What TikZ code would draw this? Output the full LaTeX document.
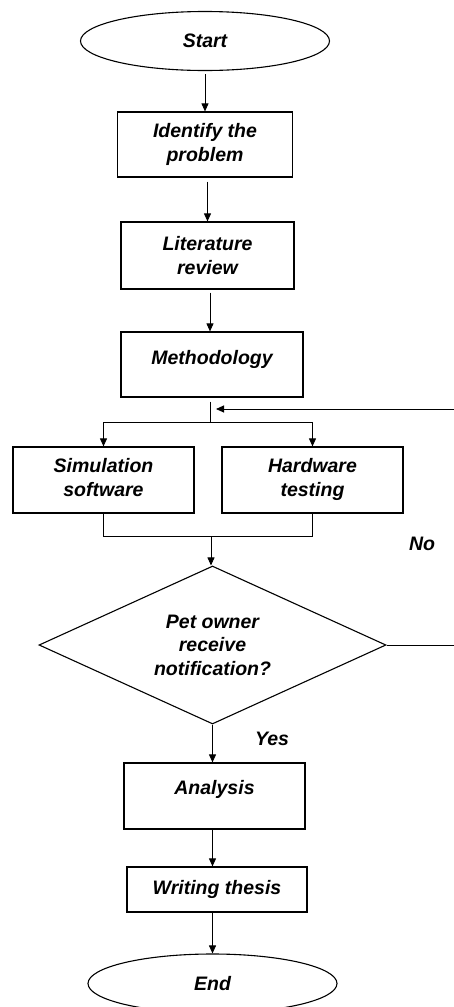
\documentclass[tikz,border=0pt]{standalone}
\usepackage{fontspec}
\setmainfont{Liberation Sans}
\usepackage{tikz}
\usetikzlibrary{arrows.meta,shapes.geometric}

\begin{document}
\begin{tikzpicture}[x=1pt,y=-1pt,
  every node/.style={font=\bfseries\itshape\fontsize{19.5}{23.5}\selectfont,align=center},
  term/.style={draw,ellipse,line width=1.1pt,minimum width=249pt,minimum height=59pt,inner sep=0pt},
  proc/.style={draw,rectangle,line width=1.2pt,minimum width=#1,minimum height=66pt,inner sep=0pt},
  proc/.default=181pt,
  cond/.style={draw,diamond,line width=1.1pt,minimum width=347pt,minimum height=158pt,aspect=2.2,inner sep=0pt},
  arr/.style={-{Triangle[length=8pt,width=7pt]},line width=0.9pt},
  conn/.style={line width=0.9pt}]
  \useasboundingbox (0,0) rectangle (454,1007);
  \node[term] (start) at (205,41) {Start};
  \node[proc=175pt,minimum height=65pt] (ident) at (205,144.5) {Identify the\\problem};
  \node[proc=173pt,minimum height=67pt] (lit) at (207.5,255.5) {Literature\\review};
  \node[proc=182pt,minimum height=65pt,text depth=15pt] (meth) at (212,364.5) {Methodology};
  \node[proc,text depth=5pt] (sim) at (103.5,480) {Simulation\\software};
  \node[proc,text depth=5pt] (hw) at (312.5,480) {Hardware\\testing};
  \node[cond] (dec) at (212.5,645) {Pet owner\\receive\\notification?};
  \node[proc,text depth=18pt] (ana) at (214.5,796) {Analysis};
  \node[proc=180pt,minimum height=45pt] (wr) at (217,889.5) {Writing thesis};
  \node[term] (end) at (212.5,983.5) {End};
  \node (no) at (422,544) {No};
  \node (yes) at (272,739) {Yes};
  \coordinate (split) at (210,422);
  \coordinate (merge) at (211,536);
  \coordinate (loopin) at (216,409);
  \coordinate (loopr) at (458,645);
  \draw[arr,shorten <=3pt] (start) -- (start |- ident.north);
  \draw[arr,shorten <=4pt] (lit.north |- ident.south) -- (lit);
  \draw[arr,shorten <=3pt] (split |- lit.south) -- (split |- meth.north);
  \draw[conn,shorten <=4pt] (meth.south -| split) -- (split);
  \draw[conn] (sim |- split) -- (hw |- split);
  \draw[arr] (sim |- split) -- (sim);
  \draw[arr] (hw |- split) -- (hw);
  \draw[conn] (sim) -- (sim |- merge) -- (hw |- merge) -- (hw);
  \draw[arr] (merge) -- (merge |- dec.north);
  \draw[arr] (dec.east) -- (loopr) |- (loopin);
  \draw[arr] (dec.south) -- (dec.south |- ana.north);
  \draw[arr] (ana.south -| dec.south) -- (dec.south |- wr.north);
  \draw[arr] (wr.south -| dec.south) -- (dec.south |- end.north);
\end{tikzpicture}
\end{document}
